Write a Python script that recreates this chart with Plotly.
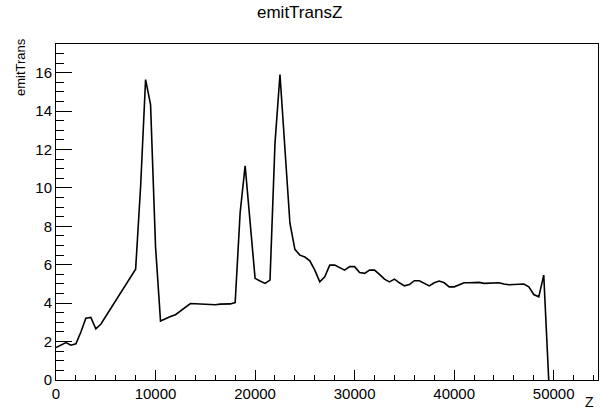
import plotly.graph_objects as go

z = [0, 500, 1000, 1500, 2000, 2500, 3000, 3500, 4000, 4500,
     5000, 5500, 6000, 6500, 7000, 7500, 8000, 8500, 9000, 9500,
     10000, 10500, 11000, 11500, 12000, 12500, 13000, 13500, 14000, 14500,
     15000, 15500, 16000, 16500, 17000, 17500, 18000, 18500, 19000, 19500,
     20000, 20500, 21000, 21500, 22000, 22500, 23000, 23500, 24000, 24500,
     25000, 25500, 26000, 26500, 27000, 27500, 28000, 28500, 29000, 29500,
     30000, 30500, 31000, 31500, 32000, 32500, 33000, 33500, 34000, 34500,
     35000, 35500, 36000, 36500, 37000, 37500, 38000, 38500, 39000, 39500,
     40000, 40500, 41000, 41500, 42000, 42500, 43000, 43500, 44000, 44500,
     45000, 45500, 46000, 46500, 47000, 47500, 48000, 48500, 49000, 49500]
emit = [1.69, 1.82, 1.95, 1.81, 1.88, 2.50, 3.22, 3.26, 2.66, 2.90,
        3.30, 3.72, 4.13, 4.54, 4.95, 5.36, 5.77, 10.07, 15.64, 14.33,
        6.94, 3.07, 3.20, 3.30, 3.40, 3.58, 3.80, 3.98, 3.97, 3.95,
        3.93, 3.92, 3.92, 3.95, 3.97, 3.96, 4.03, 8.72, 11.15, 8.22,
        5.29, 5.15, 5.03, 5.20, 12.33, 15.90, 12.03, 8.16, 6.80, 6.50,
        6.40, 6.20, 5.72, 5.11, 5.37, 5.98, 5.98, 5.84, 5.72, 5.90,
        5.90, 5.60, 5.55, 5.72, 5.72, 5.50, 5.25, 5.11, 5.25, 5.06,
        4.90, 4.97, 5.17, 5.17, 5.03, 4.90, 5.06, 5.15, 5.06, 4.85,
        4.85, 4.97, 5.06, 5.06, 5.06, 5.08, 5.03, 5.03, 5.03, 5.06,
        5.00, 4.96, 4.97, 5.00, 5.00, 4.85, 4.45, 4.33, 5.46, 0.0]

title_text = "emitTransZ"
x_title = "Z"
y_title = "emitTrans"

FONT = "Liberation Sans, Arial, Helvetica, sans-serif"

fig = go.Figure()
fig.add_trace(go.Scatter(x=z, y=emit, mode="lines",
                         line=dict(color="black", width=1.6),
                         cliponaxis=True, showlegend=False, hoverinfo="skip"))

fig.update_layout(
    width=601, height=412,
    margin=dict(l=56, r=3, t=44, b=32, pad=0, autoexpand=False),
    paper_bgcolor="white", plot_bgcolor="white",
    font=dict(family=FONT, color="black", size=14),
    showlegend=False,
)

fig.update_xaxes(
    range=[0, 54450], showgrid=False, zeroline=False, automargin=False,
    showline=True, linecolor="black", linewidth=1, mirror=True,
    ticks="inside", ticklen=10, tickwidth=1, tickcolor="black",
    tick0=0, dtick=10000, tickformat="d",
    tickfont=dict(size=15, family=FONT),
    minor=dict(ticks="inside", ticklen=5, tickwidth=1, tickcolor="black",
               dtick=2000, showgrid=False),
)
fig.update_yaxes(
    range=[0, 17.49], showgrid=False, zeroline=False, automargin=False,
    showline=True, linecolor="black", linewidth=1, mirror=True,
    ticks="inside", ticklen=16, tickwidth=1, tickcolor="black",
    tick0=0, dtick=2,
    tickfont=dict(size=15, family=FONT),
    minor=dict(ticks="inside", ticklen=8, tickwidth=1, tickcolor="black",
               dtick=0.5, showgrid=False),
)

fig.add_annotation(text=title_text, xref="paper", yref="paper",
                   x=0.45, y=1, yshift=32, xanchor="center", yanchor="middle",
                   showarrow=False, font=dict(size=17, family=FONT))
fig.add_annotation(text=x_title, xref="paper", yref="paper",
                   x=1, y=0, xshift=-2, yshift=-22, xanchor="right", yanchor="middle",
                   showarrow=False, font=dict(size=14, family=FONT))
fig.add_annotation(text=y_title, xref="paper", yref="paper",
                   x=0, y=1, xshift=-36, yshift=8, xanchor="center", yanchor="top",
                   textangle=-90, showarrow=False, font=dict(size=13, family=FONT))

fig.write_html("out.html",
               config={"displayModeBar": False},
               post_script="document.body.style.margin='0';"
                           "document.body.style.overflow='hidden';")
